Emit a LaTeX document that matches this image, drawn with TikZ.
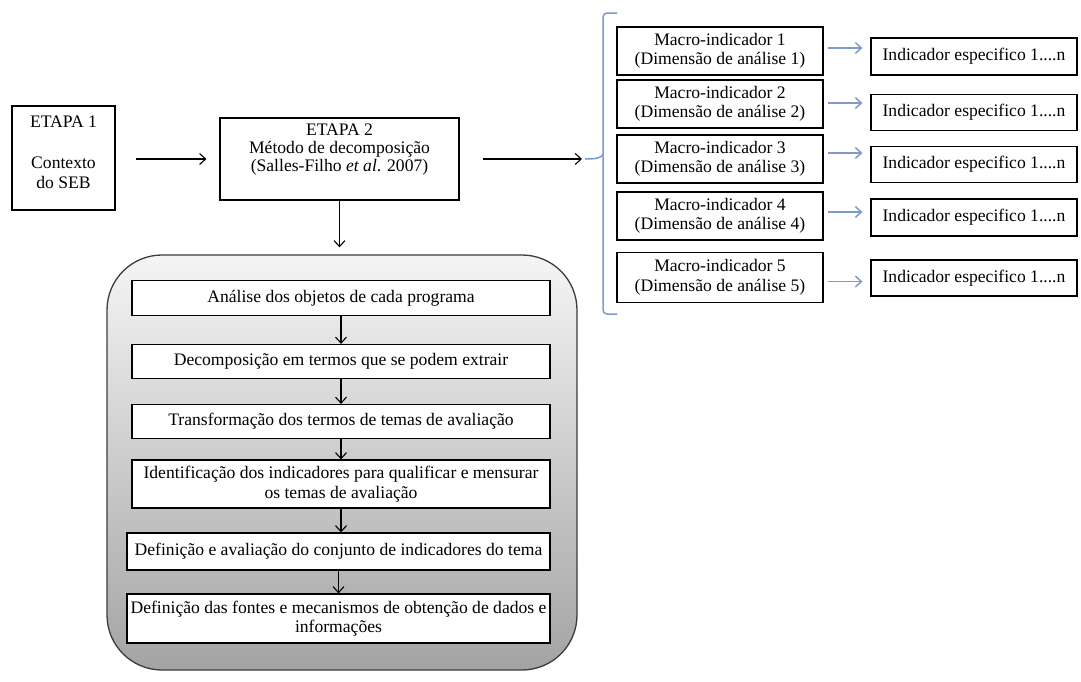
\documentclass[tikz,border=0pt]{standalone}
\usepackage{fontspec}
\setmainfont{Liberation Serif}
\usetikzlibrary{arrows.meta}
\definecolor{bracketblue}{RGB}{125,155,200}
\definecolor{frame}{RGB}{60,60,60}
\tikzset{
  sbox/.style={draw=black, line width=1.2pt, fill=white, align=center, inner sep=1pt,
    font=\fontsize{17.6}{19.5}\selectfont},
  txt/.style={align=center, inner sep=0pt, font=\fontsize{17.6}{19.5}\selectfont},
  bigbox/.style={draw=frame, line width=1.3pt, rounded corners=55pt,
    top color=black!4, bottom color=black!36},
  arr/.style={draw=black, line width=1.1pt, -{Straight Barb[length=6pt,width=11pt]}},
  barr/.style={draw=bracketblue, line width=1.5pt, -{Straight Barb[length=6pt,width=11pt]}},
}
\begin{document}
\begin{tikzpicture}[x=1pt,y=-1pt]
\useasboundingbox (0,0) rectangle (1081,681);

% ETAPA 1
\node[sbox, minimum width=103, minimum height=104] (e1) at (63.5,158) {};
\node[txt] (e1t) at (63.5,152.5) {ETAPA 1\\[21.5pt]Contexto\\do SEB};

% ETAPA 2
\node[sbox, minimum width=239, minimum height=82] (e2) at (339.5,159) {};
\node[txt, font=\fontsize{17.6}{18}\selectfont] (e2t) at (339.5,150) {ETAPA 2\\M\'etodo de decomposi\c{c}\~ao\\(Salles-Filho \textit{et al}. 2007)};

\draw[arr] ([xshift=20pt]e1.east |- e2.west) -- ([xshift=-13pt]e2.west);

% bracket
\coordinate (brt) at (585,159);
\coordinate (brtop) at (617,13);
\coordinate (brbot) at (617,314);
\draw[bracketblue, line width=1.5pt, rounded corners=4pt] (brtop) -- (603,13) -- (603,314) -- (brbot);
\draw[bracketblue, line width=1.5pt] (brt) .. controls (596,159) and (602,158) .. (603,154);
\draw[arr] ([xshift=23pt]e2.east) -- ([xshift=-3pt]brt);

% macro indicators
\node[sbox, minimum width=206, minimum height=48] (m1) at (720,51) {Macro-indicador 1\\(Dimens\~ao de an\'alise 1)};
\node[sbox, minimum width=206, minimum height=48] (m2) at (720,104) {Macro-indicador 2\\(Dimens\~ao de an\'alise 2)};
\node[sbox, minimum width=206, minimum height=48] (m3) at (720,159) {Macro-indicador 3\\(Dimens\~ao de an\'alise 3)};
\node[sbox, minimum width=206, minimum height=48] (m4) at (720,216) {Macro-indicador 4\\(Dimens\~ao de an\'alise 4)};
\node[sbox, minimum width=206, minimum height=50] (m5) at (720,277.5) {Macro-indicador 5\\(Dimens\~ao de an\'alise 5)};

\node[sbox, minimum width=206, minimum height=37] (i1) at (974,56.5) {Indicador especifico 1....n};
\node[sbox, minimum width=206, minimum height=36] (i2) at (974,112.5) {Indicador especifico 1....n};
\node[sbox, minimum width=206, minimum height=36] (i3) at (974,164.5) {Indicador especifico 1....n};
\node[sbox, minimum width=206, minimum height=37] (i4) at (974,217.5) {Indicador especifico 1....n};
\node[sbox, minimum width=206, minimum height=36] (i5) at (974,278) {Indicador especifico 1....n};

\foreach \k/\d in {1/3,2/1,3/6,4/4,5/-4}{
  \draw[barr] ([xshift=4pt,yshift=\d pt]m\k.east) -- ([xshift=-8pt,yshift=\d pt]m\k.east -| i\k.west);
}

% big rounded box
\node[bigbox, minimum width=470, minimum height=415] (big) at (342,462.5) {};
\draw[arr] (e2.south) -- ([yshift=7pt]e2.south |- big.north);

\node[sbox, minimum width=418, minimum height=35] (b1) at (341,298) {An\'alise dos objetos de cada programa};
\node[sbox, minimum width=418, minimum height=34] (b2) at (341,361.5) {Decomposi\c{c}\~ao em termos que se podem extrair};
\node[sbox, minimum width=418, minimum height=34] (b3) at (341,421.5) {Transforma\c{c}\~ao dos termos de temas de avalia\c{c}\~ao};
\node[sbox, minimum width=418, minimum height=48] (b4) at (341,484) {Identifica\c{c}\~ao dos indicadores para qualificar e mensurar\\os temas de avalia\c{c}\~ao};
\node[sbox, minimum width=423, minimum height=37] (b5) at (338.5,551.5) {Defini\c{c}\~ao e avalia\c{c}\~ao do conjunto de indicadores do tema};
\node[sbox, minimum width=423, minimum height=49] (b6) at (338.5,618.5) {Defini\c{c}\~ao das fontes e mecanismos de obten\c{c}\~ao de dados e\\informa\c{c}\~oes};

\draw[arr] (b1.south) -- (b1.south |- b2.north);
\draw[arr] (b2.south) -- (b2.south |- b3.north);
\draw[arr] (b3.south) -- (b3.south |- b4.north);
\draw[arr] (b4.south) -- (b4.south |- b5.north);
\draw[arr] (b5.south) -- (b5.south |- b6.north);
\end{tikzpicture}
\end{document}
